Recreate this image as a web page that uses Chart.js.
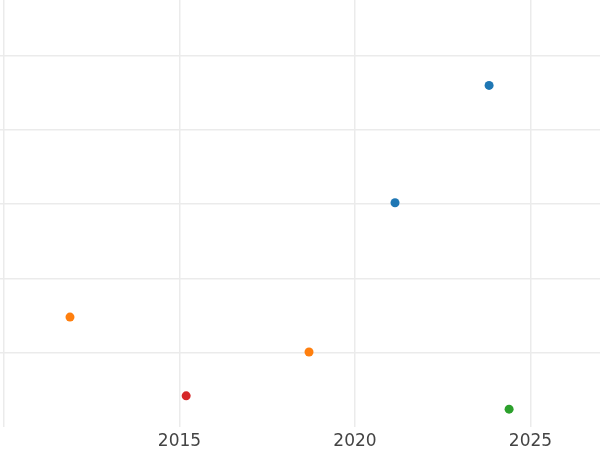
<!DOCTYPE html>
<html>
<head>
<meta charset="utf-8">
<script src="https://cdn.jsdelivr.net/npm/chart.js@4"></script>
<style>
  html, body { margin: 0; padding: 0; background: #fff; }
  #chart { display: block; }
</style>
</head>
<body>
<canvas id="chart" width="600" height="450"></canvas>
<script>
// data
const blueX = [2021.14, 2023.82];
const blueY = [3.02, 4.6];
const orangeX = [2011.88, 2018.69];
const orangeY = [1.48, 1.01];
const greenX = [2024.39];
const greenY = [0.24];
const redX = [2015.19];
const redY = [0.42];

const xTicks = [2010, 2015, 2020, 2025];
const yTicks = [1, 2, 3, 4, 5];

const toPoints = (xs, ys) => xs.map((x, i) => ({ x: x, y: ys[i] }));

const gridColor = '#ebebeb';

new Chart(document.getElementById('chart'), {
  type: 'scatter',
  data: {
    datasets: [
      { data: toPoints(blueX, blueY), backgroundColor: '#1f77b4' },
      { data: toPoints(orangeX, orangeY), backgroundColor: '#ff7f0e' },
      { data: toPoints(greenX, greenY), backgroundColor: '#2ca02c' },
      { data: toPoints(redX, redY), backgroundColor: '#d62728' },
    ]
  },
  options: {
    responsive: false,
    animation: false,
    layout: { padding: 0, autoPadding: false },
    elements: { point: { radius: 4.5, borderWidth: 0, hoverRadius: 4.5 } },
    plugins: { legend: { display: false }, tooltip: { enabled: false } },
    scales: {
      x: {
        type: 'linear',
        min: 2009.886,
        max: 2026.98,
        afterBuildTicks: s => { s.ticks = xTicks.map(v => ({ value: v })); },
        afterFit: s => { s.height = 23; },
        border: { display: false },
        grid: { color: gridColor, lineWidth: 1.5, drawTicks: false },
        ticks: {
          padding: 4,
          color: '#444',
          font: { family: 'DejaVu Sans', size: 17 },
          callback: v => (v === 2010 ? '' : String(v))
        }
      },
      y: {
        min: 0,
        max: 5.75,
        afterBuildTicks: s => { s.ticks = yTicks.map(v => ({ value: v })); },
        border: { display: false },
        grid: { color: gridColor, lineWidth: 1.5, drawTicks: false },
        ticks: { display: false }
      }
    }
  }
});
</script>
</body>
</html>
